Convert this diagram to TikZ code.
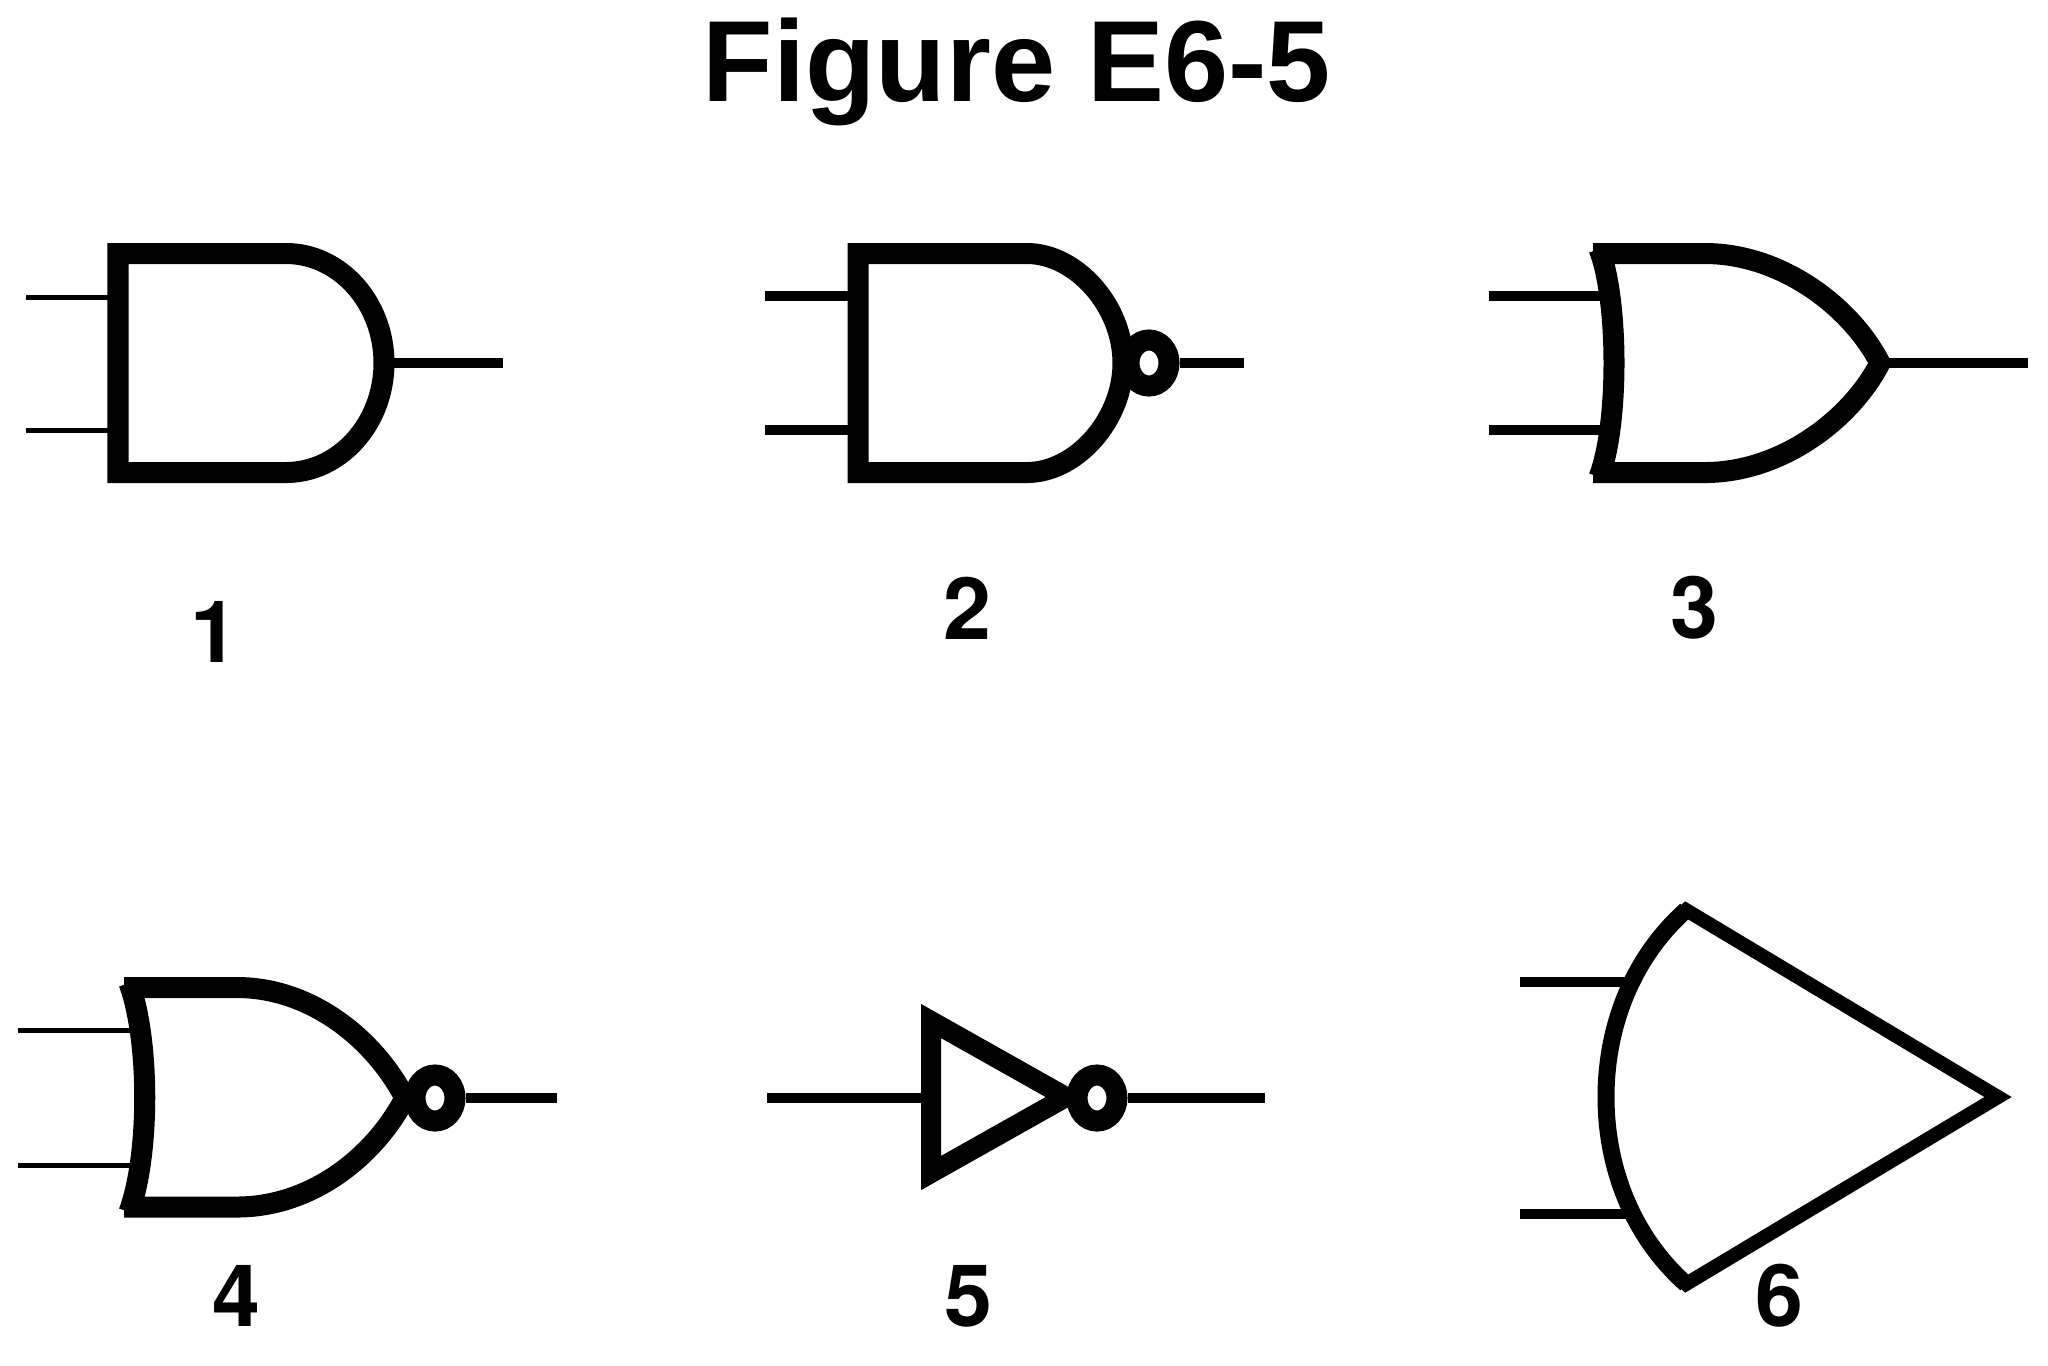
\documentclass[tikz,border=0pt]{standalone}
\usepackage{fontspec}
\setmainfont{Liberation Sans}
\newfontfamily\digitfont{TeX Gyre Heros}
\usetikzlibrary{shapes.geometric}

\tikzset{
  gate/.style={draw,line width=2.1mm,miter limit=10},
  bubble/.style={ellipse,draw,line width=2.1mm,inner sep=0pt,minimum width=4mm,minimum height=4.6mm},
  number/.style={anchor=base,font=\digitfont\bfseries\fontsize{24.5}{28}\selectfont,inner sep=0pt},
  headline/.style={anchor=base,font=\bfseries\fontsize{32.8}{36}\selectfont,inner sep=0pt}
}

\begin{document}
\begin{tikzpicture}[x=.01cm,y=-.01cm]
      \useasboundingbox (0,0) rectangle (2048,1365);

      \node[headline] (title) at (1017,101) {Figure E6-5};

      % lead ends
      \coordinate (a1) at (26,297);     \coordinate (p1) at (118,297);
      \coordinate (b1) at (26,430);     \coordinate (q1) at (118,430);
      \coordinate (y1) at (503,363);    \coordinate (r1) at (384,363);
      \coordinate (a2) at (765,296);    \coordinate (p2) at (858,296);
      \coordinate (b2) at (765,430);    \coordinate (q2) at (858,430);
      \coordinate (y2) at (1244,363);
      \coordinate (a3) at (1489,296);   \coordinate (p3) at (1611,296);
      \coordinate (b3) at (1489,430);   \coordinate (q3) at (1611,430);
      \coordinate (y3) at (2028,363);   \coordinate (r3) at (1880,363);
      \coordinate (a4) at (18,1030);    \coordinate (p4) at (141,1030);
      \coordinate (b4) at (18,1165);    \coordinate (q4) at (141,1165);
      \coordinate (y4) at (557,1098);
      \coordinate (a5) at (767,1098);   \coordinate (p5) at (931,1098);
      \coordinate (y5) at (1265,1098);
      \coordinate (a6) at (1520,982);   \coordinate (p6) at (1631,982);
      \coordinate (b6) at (1520,1214);  \coordinate (q6) at (1631,1214);

      \begin{scope}[every edge/.style={draw,line width=.5mm}]
        \path (a1) edge (p1);
        \path (b1) edge (q1);
        \path (a4) edge (p4);
        \path (b4) edge (q4);
      \end{scope}

      % gates
      \draw[gate] (118,253.5) -- (286,253.5)
        .. controls (340,253.5) and (384,303) .. (384,363)
        .. controls (384,423) and (340,472.5) .. (286,472.5)
        -- (118,472.5) -- cycle;
      \draw[gate] (858,253.5) -- (1027,253.5)
        .. controls (1076,253.5) and (1123,306) .. (1123,363)
        .. controls (1123,420) and (1076,472.5) .. (1027,472.5)
        -- (858,472.5) -- cycle;
      \draw[gate] (1593,253.5) -- (1705,253.5)
        .. controls (1780,253.5) and (1850,305) .. (1880,363)
        .. controls (1850,421) and (1780,472.5) .. (1705,472.5)
        -- (1593,472.5);
      \draw[gate] (1599,249)
        .. controls (1619,300) and (1619,426) .. (1599,477);
      \draw[gate] (124,987.5) -- (237,987.5)
        .. controls (312,987.5) and (375,1040) .. (405,1098)
        .. controls (375,1156) and (312,1207) .. (237,1207)
        -- (124,1207);
      \draw[gate] (129,983)
        .. controls (150,1040) and (150,1155) .. (129,1212);
      \draw[gate,line width=2mm] (931,1021) -- (1066,1097) -- (931,1173) -- cycle;
      \draw[gate,line width=1.4mm] (1686,910) -- (1998,1097) -- (1686,1284)
        .. controls (1630,1234) and (1606,1164) .. (1606,1097)
        .. controls (1606,1030) and (1630,960) .. (1686,910) -- cycle;
      \draw[gate,line width=1.7mm] (1686,910)
        .. controls (1630,960) and (1606,1030) .. (1606,1097)
        .. controls (1606,1164) and (1630,1234) .. (1686,1284);

      \begin{scope}[every node/.style={bubble}]
        \node (n2) at (1149,363)  {};
        \node (n4) at (435,1098)  {};
        \node (n5) at (1097,1098) {};
      \end{scope}

      \begin{scope}[every edge/.style={draw,line width=1mm}]
        \path (r1) edge (y1);
        \path (a2) edge (p2);
        \path (b2) edge (q2);
        \path (n2) edge (y2);
        \path (a3) edge (p3);
        \path (b3) edge (q3);
        \path (r3) edge (y3);
        \path (n4) edge (y4);
        \path (a5) edge (p5);
        \path (n5) edge (y5);
        \path (a6) edge (p6);
        \path (b6) edge (q6);
      \end{scope}

      \begin{scope}[every node/.style={number}]
        \node (l1) at (214,662)  {1};
        \node (l2) at (967,639)  {2};
        \node (l3) at (1694,638) {3};
        \node (l4) at (236,1326) {4};
        \node (l5) at (968,1326) {5};
        \node (l6) at (1779,1326) {6};
      \end{scope}

    \end{tikzpicture}
\end{document}
